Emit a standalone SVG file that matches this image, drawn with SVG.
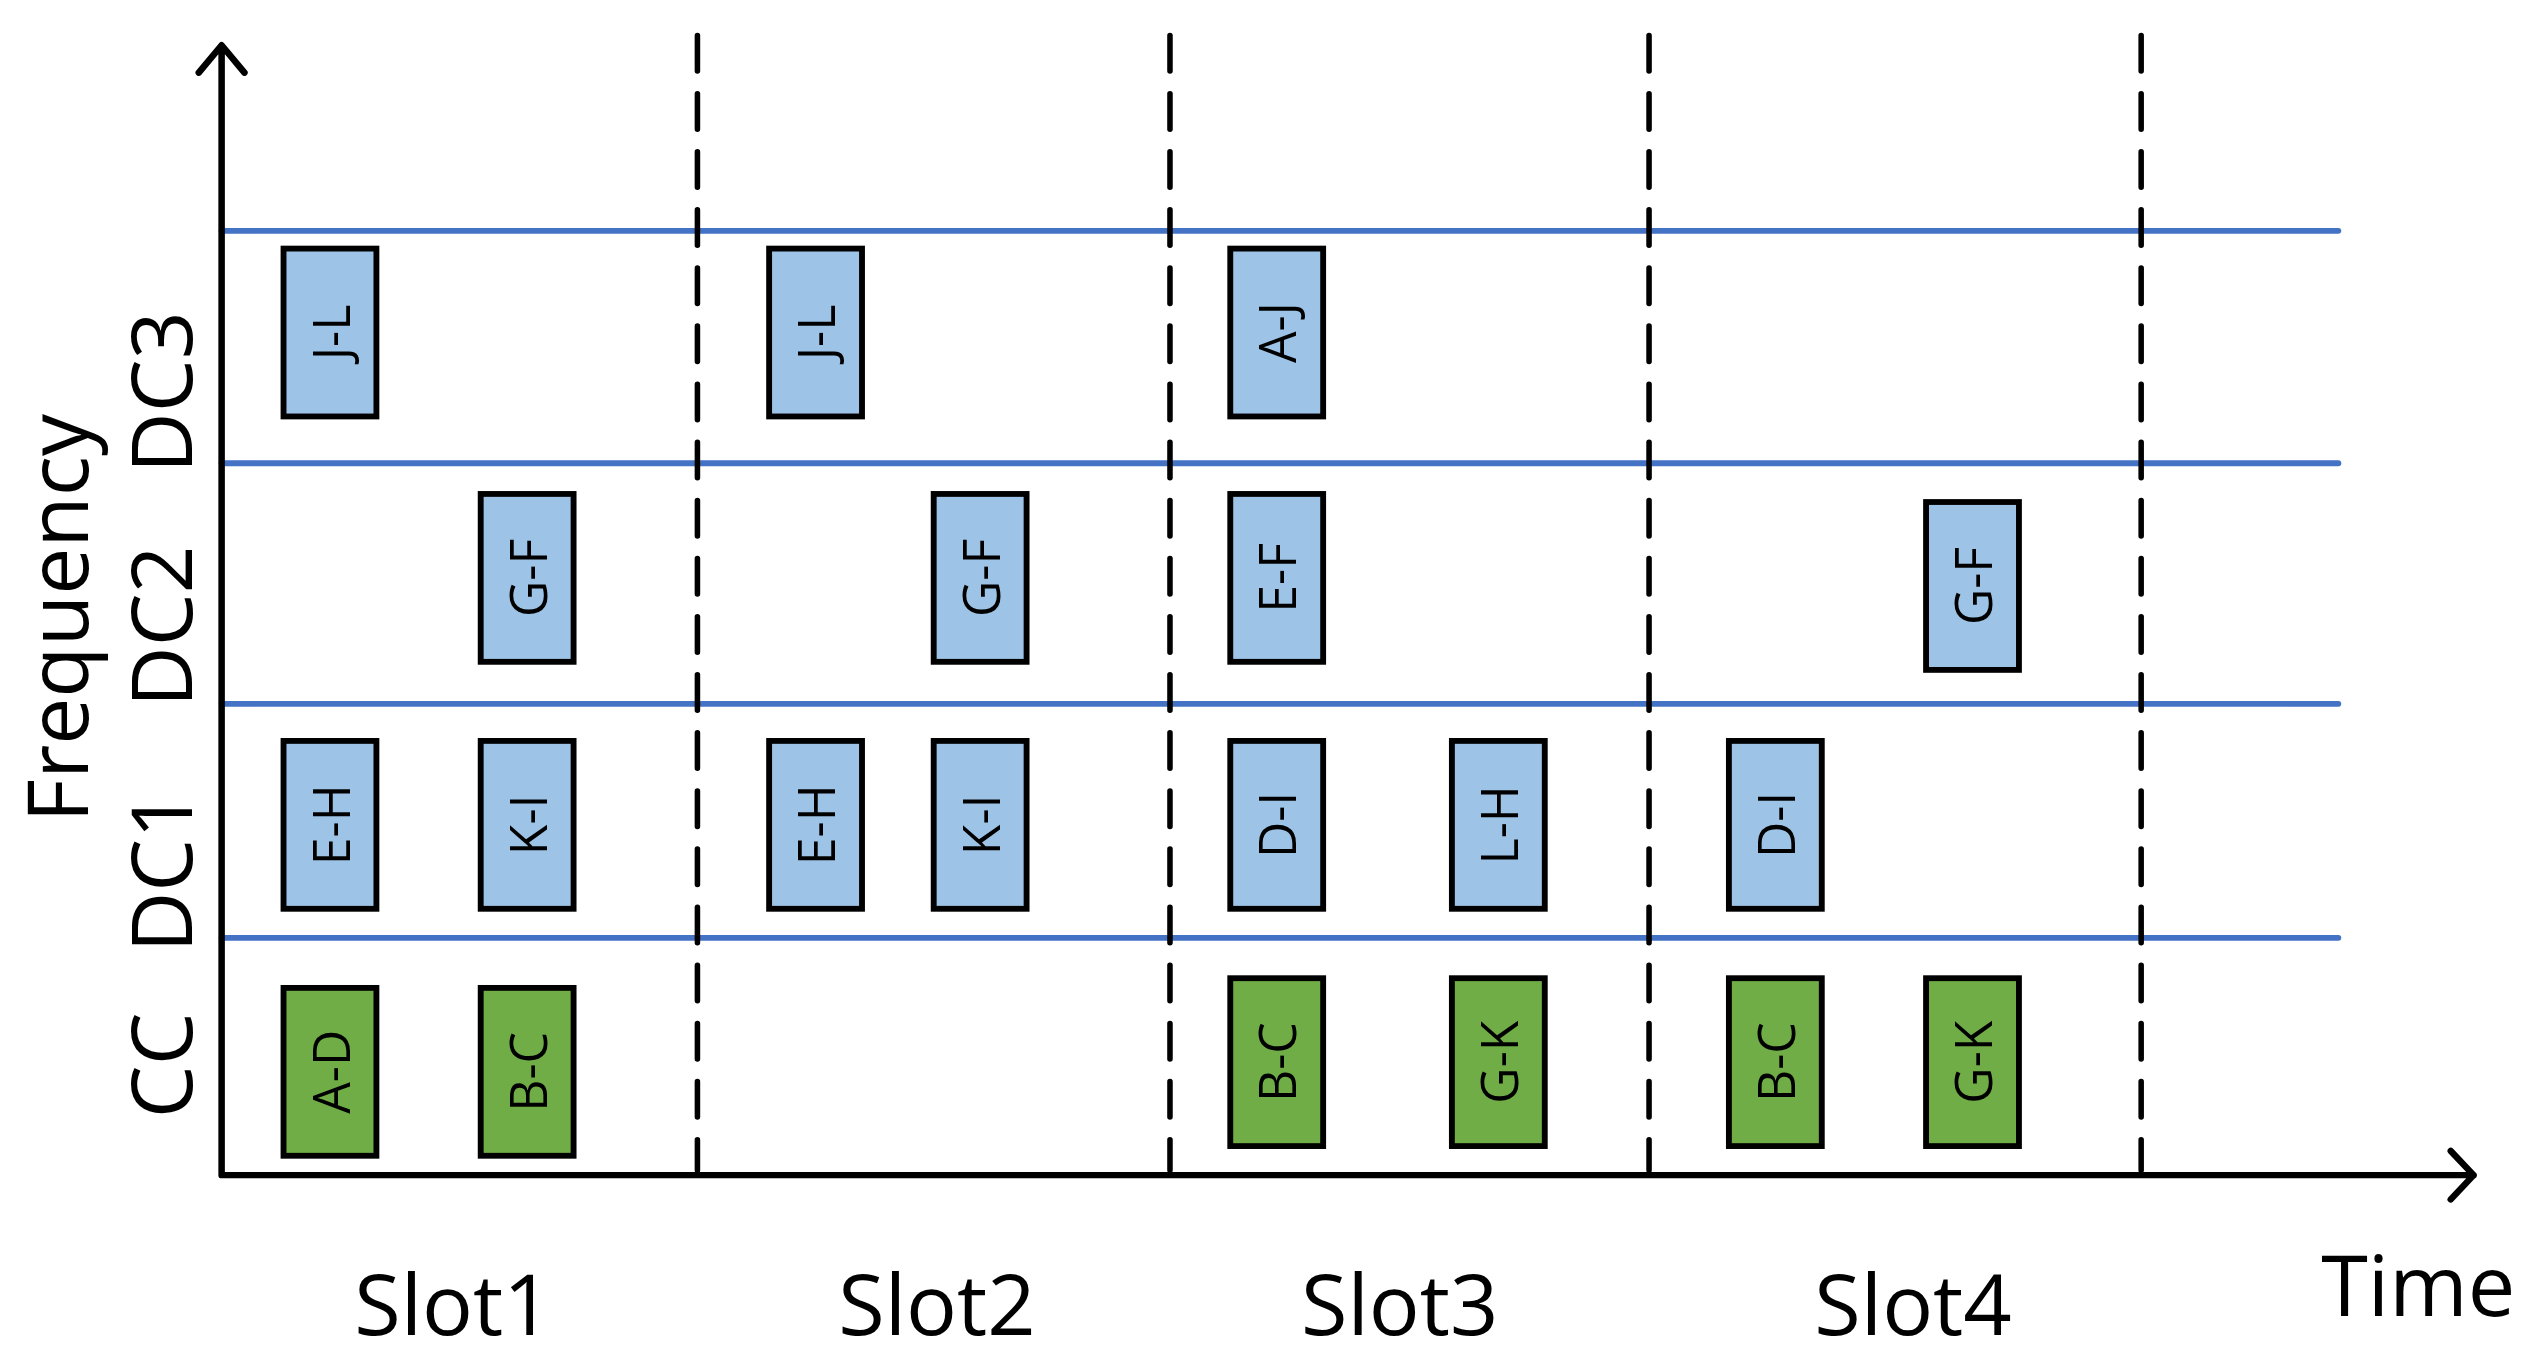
<svg xmlns="http://www.w3.org/2000/svg" width="2529" height="1364" viewBox="0 0 2529 1364">
<style>
.ax{stroke:#000;stroke-width:4;fill:none;stroke-linecap:round;stroke-linejoin:round}
.bl{stroke:#4472C4;stroke-width:3.6;stroke-linecap:round}
.ds{stroke:#000;stroke-width:3.4;stroke-dasharray:22 14;stroke-linecap:round}
.b{fill:#9DC3E6;stroke:#000;stroke-width:3.6}
.g{fill:#70AD47;stroke:#000;stroke-width:3.6}
.t{font-family:"Open Sans","Liberation Sans",sans-serif;fill:#000}
.bt{font-size:31px;text-anchor:middle;dominant-baseline:central}
.lt{font-size:52px;text-anchor:middle}
</style>
<rect width="2529" height="1364" fill="#fff"/>
<g transform="scale(1.6295,1.6142)">
<g id="connectors">
<line class="bl" x1="136" y1="143" x2="1435" y2="143"/>
<line class="bl" x1="136" y1="287" x2="1435" y2="287"/>
<line class="bl" x1="136" y1="436" x2="1435" y2="436"/>
<line class="bl" x1="136" y1="581" x2="1435" y2="581"/>
<line class="ds" x1="428" y1="22" x2="428" y2="725"/>
<line class="ds" x1="718" y1="22" x2="718" y2="725"/>
<line class="ds" x1="1012" y1="22" x2="1012" y2="725"/>
<line class="ds" x1="1314" y1="22" x2="1314" y2="725"/>
<path class="ax" d="M136 728V30M122 45L136 28L150 45M136 728H1518M1504 713L1518 728L1504 743"/>
</g>
<g id="boxes">
<g id="n1"><rect class="b" x="174" y="154" width="57" height="104"/><text class="t bt" transform="translate(202.5,206) rotate(-90)">J-L</text></g>
<g id="n2"><rect class="b" x="472" y="154" width="57" height="104"/><text class="t bt" transform="translate(500.5,206) rotate(-90)">J-L</text></g>
<g id="n3"><rect class="b" x="755" y="154" width="57" height="104"/><text class="t bt" transform="translate(783.5,206) rotate(-90)">A-J</text></g>
<g id="n4"><rect class="b" x="295" y="306" width="57" height="104"/><text class="t bt" transform="translate(323.5,358) rotate(-90)">G-F</text></g>
<g id="n5"><rect class="b" x="573" y="306" width="57" height="104"/><text class="t bt" transform="translate(601.5,358) rotate(-90)">G-F</text></g>
<g id="n6"><rect class="b" x="755" y="306" width="57" height="104"/><text class="t bt" transform="translate(783.5,358) rotate(-90)">E-F</text></g>
<g id="n7"><rect class="b" x="1182" y="311" width="57" height="104"/><text class="t bt" transform="translate(1210.5,363) rotate(-90)">G-F</text></g>
<g id="n8"><rect class="b" x="174" y="459" width="57" height="104"/><text class="t bt" transform="translate(202.5,511) rotate(-90)">E-H</text></g>
<g id="n9"><rect class="b" x="295" y="459" width="57" height="104"/><text class="t bt" transform="translate(323.5,511) rotate(-90)">K-I</text></g>
<g id="n10"><rect class="b" x="472" y="459" width="57" height="104"/><text class="t bt" transform="translate(500.5,511) rotate(-90)">E-H</text></g>
<g id="n11"><rect class="b" x="573" y="459" width="57" height="104"/><text class="t bt" transform="translate(601.5,511) rotate(-90)">K-I</text></g>
<g id="n12"><rect class="b" x="755" y="459" width="57" height="104"/><text class="t bt" transform="translate(783.5,511) rotate(-90)">D-I</text></g>
<g id="n13"><rect class="b" x="891" y="459" width="57" height="104"/><text class="t bt" transform="translate(919.5,511) rotate(-90)">L-H</text></g>
<g id="n14"><rect class="b" x="1061" y="459" width="57" height="104"/><text class="t bt" transform="translate(1089.5,511) rotate(-90)">D-I</text></g>
<g id="n15"><rect class="g" x="174" y="612" width="57" height="104"/><text class="t bt" transform="translate(202.5,664) rotate(-90)">A-D</text></g>
<g id="n16"><rect class="g" x="295" y="612" width="57" height="104"/><text class="t bt" transform="translate(323.5,664) rotate(-90)">B-C</text></g>
<g id="n17"><rect class="g" x="755" y="606" width="57" height="104"/><text class="t bt" transform="translate(783.5,658) rotate(-90)">B-C</text></g>
<g id="n18"><rect class="g" x="891" y="606" width="57" height="104"/><text class="t bt" transform="translate(919.5,658) rotate(-90)">G-K</text></g>
<g id="n19"><rect class="g" x="1061" y="606" width="57" height="104"/><text class="t bt" transform="translate(1089.5,658) rotate(-90)">B-C</text></g>
<g id="n20"><rect class="g" x="1182" y="606" width="57" height="104"/><text class="t bt" transform="translate(1210.5,658) rotate(-90)">G-K</text></g>
</g>
<g id="labels">
<text class="t lt" x="278" y="827">Slot1</text>
<text class="t lt" x="575" y="827">Slot2</text>
<text class="t lt" x="859" y="827">Slot3</text>
<text class="t lt" x="1174" y="827">Slot4</text>
<text class="t lt" x="1484" y="815">Time</text>
<text class="t lt" transform="translate(118,243) rotate(-90)">DC3</text>
<text class="t lt" transform="translate(118,388) rotate(-90)">DC2</text>
<text class="t lt" transform="translate(118,540) rotate(-90)">DC1</text>
<text class="t lt" transform="translate(118,660) rotate(-90)">CC</text>
<text class="t lt" transform="translate(54,383) rotate(-90)">Frequency</text>
</g>
</g>
</svg>
